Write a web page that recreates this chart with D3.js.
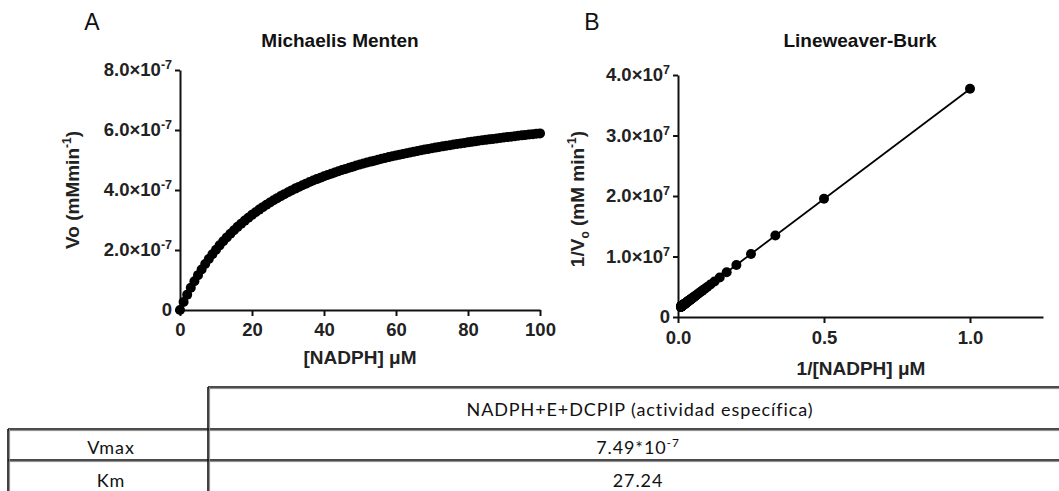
<!DOCTYPE html>
<html>
<head>
<meta charset="utf-8">
<script src="https://cdn.jsdelivr.net/npm/d3@7"></script>
<style>
  body { margin: 0; background: #fff; }
  svg { display: block; font-family: "Liberation Sans", Arial, sans-serif; }
  .axis path, .axis line { stroke: #111; }
  .axis .tick text { font-size: 18.5px; font-weight: bold; fill: #222; }
  .tbl { font-family: Lato, Carlito, Calibri, sans-serif; font-size: 18px; letter-spacing: 0.9px; fill: #111; }
</style>
</head>
<body>
<svg id="chart" width="1059" height="491"></svg>
<script>
// Michaelis-Menten points: [NADPH] in uM, Vo in units of 1e-7 mM/min
const conc = [0, 1, 2, 3, 4, 5, 6, 7, 8, 9, 10, 11, 12, 13, 14, 15, 16, 17, 18, 19, 20,
  21, 22, 23, 24, 25, 26, 27, 28, 29, 30, 31, 32, 33, 34, 35, 36, 37, 38, 39, 40,
  41, 42, 43, 44, 45, 46, 47, 48, 49, 50, 51, 52, 53, 54, 55, 56, 57, 58, 59, 60,
  61, 62, 63, 64, 65, 66, 67, 68, 69, 70, 71, 72, 73, 74, 75, 76, 77, 78, 79, 80,
  81, 82, 83, 84, 85, 86, 87, 88, 89, 90, 91, 92, 93, 94, 95, 96, 97, 98, 99, 100];
const vo = [0, 0.265, 0.512, 0.743, 0.959, 1.162, 1.352, 1.531, 1.700, 1.860, 2.011,
  2.155, 2.291, 2.420, 2.543, 2.660, 2.772, 2.878, 2.980, 3.078, 3.171,
  3.261, 3.347, 3.429, 3.508, 3.584, 3.658, 3.728, 3.797, 3.862, 3.926,
  3.987, 4.046, 4.103, 4.158, 4.212, 4.264, 4.314, 4.363, 4.410, 4.456,
  4.500, 4.543, 4.585, 4.626, 4.666, 4.704, 4.742, 4.778, 4.814, 4.849,
  4.882, 4.915, 4.947, 4.979, 5.009, 5.039, 5.068, 5.097, 5.124, 5.151,
  5.178, 5.204, 5.229, 5.254, 5.278, 5.302, 5.325, 5.348, 5.370, 5.392,
  5.413, 5.434, 5.455, 5.475, 5.494, 5.514, 5.533, 5.551, 5.570, 5.588,
  5.605, 5.622, 5.639, 5.656, 5.672, 5.688, 5.704, 5.720, 5.735, 5.750,
  5.765, 5.779, 5.793, 5.807, 5.821, 5.834, 5.848, 5.861, 5.874, 5.887];

// Lineweaver-Burk fitted line: 1/[NADPH] vs 1/Vo (units of 1e7)
const fitX = [0, 1.0];
const fitY = [0.1335, 3.770];

const mmXTicks = [0, 20, 40, 60, 80, 100];
const mmYTicks = [0, 2, 4, 6, 8];
const mmYLabels = ['0', '2.0×10^-7', '4.0×10^-7', '6.0×10^-7', '8.0×10^-7'];
const lbXTicks = [0, 0.5, 1.0];
const lbXLabels = ['0.0', '0.5', '1.0'];
const lbYTicks = [0, 1, 2, 3, 4];
const lbYLabels = ['0', '1.0×10^7', '2.0×10^7', '3.0×10^7', '4.0×10^7'];

const tableHeader = 'NADPH+E+DCPIP (actividad específica)';
const rowNames = ['Vmax', 'Km'];
const rowValues = ['7.49*10^-7', '27.24'];

const FONT = '"Liberation Sans", Arial, sans-serif';
const svg = d3.select('#chart');

// write "base^exp" as text with a superscript
function supText(el, str, supSize, rise) {
  el.text('');
  const [base, exp] = str.split('^');
  el.append('tspan').text(base);
  if (exp) el.append('tspan').attr('dy', -rise).attr('font-size', supSize).text(exp);
}

function styleAxis(g) {
  g.attr('class', 'axis').attr('font-family', FONT);
  g.select('.domain').attr('stroke-width', 2);
  g.selectAll('.tick line').attr('stroke-width', 2);
}

// ---- A: Michaelis Menten
const mmX = d3.scaleLinear().domain([0, 100]).range([180, 540]);
const mmY = d3.scaleLinear().domain([0, 8]).range([310, 70]);

svg.append('g')
  .attr('transform', 'translate(0,310)')
  .call(d3.axisBottom(mmX).tickValues(mmXTicks).tickSize(6).tickSizeOuter(0).tickPadding(7))
  .call(styleAxis);

svg.append('g')
  .attr('transform', 'translate(180,0)')
  .call(d3.axisLeft(mmY).tickValues(mmYTicks).tickSize(5).tickSizeOuter(0).tickPadding(3))
  .call(styleAxis)
  .selectAll('.tick text')
  .each(function (d, i) { supText(d3.select(this), mmYLabels[i], 12.5, 7); });

svg.append('g')
  .selectAll('circle')
  .data(conc)
  .join('circle')
  .attr('cx', d => mmX(d))
  .attr('cy', (d, i) => mmY(vo[i]))
  .attr('r', 5)
  .attr('fill', '#000');

svg.append('text').attr('x', 92).attr('y', 30).attr('text-anchor', 'middle')
  .attr('font-size', 23).attr('fill', '#111').text('A');
svg.append('text').attr('x', 340).attr('y', 47).attr('text-anchor', 'middle')
  .attr('font-size', 19).attr('font-weight', 'bold').attr('fill', '#111').text('Michaelis Menten');
svg.append('text').attr('x', 360).attr('y', 364).attr('text-anchor', 'middle')
  .attr('font-size', 19).attr('font-weight', 'bold').attr('fill', '#222').text('[NADPH] μM');

const mmTitle = svg.append('text')
  .attr('transform', 'translate(79,190) rotate(-90)')
  .attr('text-anchor', 'middle')
  .attr('font-size', 19).attr('font-weight', 'bold').attr('fill', '#222');
mmTitle.append('tspan').text('Vo (mMmin');
mmTitle.append('tspan').attr('dy', -8).attr('font-size', 12).text('-1');
mmTitle.append('tspan').attr('dy', 8).text(')');

// ---- B: Lineweaver-Burk
const lbX = d3.scaleLinear().domain([0, 1.25]).range([678, 1043]);
const lbY = d3.scaleLinear().domain([0, 4]).range([317, 75]);

svg.append('g')
  .attr('transform', 'translate(0,317)')
  .call(d3.axisBottom(lbX).tickValues(lbXTicks).tickFormat((d, i) => lbXLabels[i])
    .tickSize(6).tickSizeOuter(0).tickPadding(8))
  .call(styleAxis);

svg.append('g')
  .attr('transform', 'translate(678,0)')
  .call(d3.axisLeft(lbY).tickValues(lbYTicks).tickSize(5).tickSizeOuter(0).tickPadding(3))
  .call(styleAxis)
  .selectAll('.tick text')
  .each(function (d, i) { supText(d3.select(this), lbYLabels[i], 12.5, 7); });

const fitLine = d3.line().x(d => lbX(d[0])).y(d => lbY(d[1]));
svg.append('path')
  .attr('d', fitLine(fitX.map((x, i) => [x, fitY[i]])))
  .attr('fill', 'none').attr('stroke', '#000').attr('stroke-width', 1.8);

// double-reciprocal of the same measurements
const lbPts = conc.map((c, i) => [c, vo[i]]).filter(p => p[0] > 0).map(p => [1 / p[0], 1 / p[1]]);
svg.append('g')
  .selectAll('circle')
  .data(lbPts)
  .join('circle')
  .attr('cx', d => lbX(d[0]))
  .attr('cy', d => lbY(d[1]))
  .attr('r', 5)
  .attr('fill', '#000');

svg.append('text').attr('x', 592).attr('y', 30).attr('text-anchor', 'middle')
  .attr('font-size', 23).attr('fill', '#111').text('B');
svg.append('text').attr('x', 860).attr('y', 47).attr('text-anchor', 'middle')
  .attr('font-size', 19).attr('font-weight', 'bold').attr('fill', '#111').text('Lineweaver-Burk');
svg.append('text').attr('x', 861).attr('y', 375).attr('text-anchor', 'middle')
  .attr('font-size', 19).attr('font-weight', 'bold').attr('fill', '#222').text('1/[NADPH] μM');

const lbTitle = svg.append('text')
  .attr('transform', 'translate(584,199) rotate(-90)')
  .attr('text-anchor', 'middle')
  .attr('font-size', 19).attr('font-weight', 'bold').attr('fill', '#222');
lbTitle.append('tspan').text('1/V');
lbTitle.append('tspan').attr('dy', 5).attr('font-size', 12).text('o');
lbTitle.append('tspan').attr('dy', -5).text(' (mM min');
lbTitle.append('tspan').attr('dy', -8).attr('font-size', 12).text('-1');
lbTitle.append('tspan').attr('dy', 8).text(')');

// ---- table
const tbl = svg.append('g');
function hline(x1, x2, y) {
  tbl.append('line').attr('x1', x1).attr('x2', x2).attr('y1', y).attr('y2', y)
    .attr('stroke', '#111').attr('stroke-width', 1.6);
  tbl.append('line').attr('x1', x1).attr('x2', x2).attr('y1', y + 1.6).attr('y2', y + 1.6)
    .attr('stroke', '#888').attr('stroke-width', 1);
}
function vline(x, y1, y2) {
  tbl.append('line').attr('x1', x).attr('x2', x).attr('y1', y1).attr('y2', y2)
    .attr('stroke', '#111').attr('stroke-width', 1.6);
  tbl.append('line').attr('x1', x + 1.6).attr('x2', x + 1.6).attr('y1', y1).attr('y2', y2)
    .attr('stroke', '#888').attr('stroke-width', 1);
}
hline(208, 1059, 387);
hline(8, 1059, 429);
hline(8, 1059, 460);
vline(208, 387, 491);
vline(8, 429, 491);

tbl.append('text').attr('class', 'tbl').attr('x', 640).attr('y', 416)
  .attr('text-anchor', 'middle').text(tableHeader);
const rowBase = [454, 487];
rowNames.forEach((n, i) => {
  tbl.append('text').attr('class', 'tbl').attr('x', 111).attr('y', rowBase[i])
    .attr('text-anchor', 'middle').text(n);
  const t = tbl.append('text').attr('class', 'tbl').attr('x', 638).attr('y', rowBase[i])
    .attr('text-anchor', 'middle');
  supText(t, rowValues[i], 12, 7);
});
</script>
</body>
</html>
